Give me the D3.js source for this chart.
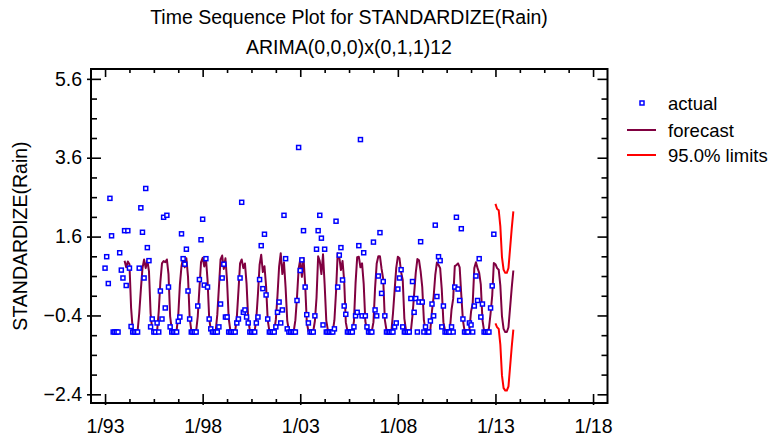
<!DOCTYPE html>
<html>
<head>
<meta charset="utf-8">
<script src="https://cdn.jsdelivr.net/npm/d3@7"></script>
<style>
  body { margin: 0; background: #fff; }
  svg { display: block; }
  text { font-family: Arial, "Liberation Sans", sans-serif; fill: #000; }
</style>
</head>
<body>
<svg id="chart" width="779" height="437"></svg>
<script>
// monthly series, first value = 1/93
const firstYear = 1993;

const actual = [
  0.80, 1.09, 0.41, 2.57, 1.62, -0.82, -0.82, -0.82, -0.82, 1.19, 0.75, 0.55,   // 1993
  1.75, 0.36, 1.75, 0.80, -0.68, -0.82, -0.82, -0.82, -0.82, 0.80, 2.33, 1.71,  // 1994
  0.55, 2.82, 1.32, 0.99, -0.69, -0.49, -0.82, -0.82, -0.59, -0.82, 0.22, -0.49, // 1995
  2.09, -0.21, 2.14, 0.32, -0.69, -0.82, -0.82, -0.82, -0.82, -0.55, -0.44, 1.67, // 1996
  1.04, 0.90, 1.28, 0.22, -0.49, -0.82, -0.82, -0.82, -0.82, -0.16, 0.51, 1.52, // 1997
  2.04, 0.37, 1.04, 0.32, -0.49, -0.74, -0.82, -0.82, -0.82, -0.82, -0.69, -0.11, // 1998
  0.55, 0.90, -0.44, -0.44, -0.82, -0.82, -0.82, -0.82, -0.82, -0.59, -0.49, 0.55, // 1999
  2.47, -0.32, -0.26, -0.44, -0.59, -0.82, -0.82, -0.82, -0.82, -0.59, -0.44, 0.51, // 2000
  1.37, 0.28, 1.66, 0.12, -0.49, -0.82, -0.82, -0.82, -0.82, -0.69, -0.32, -0.06, // 2001
  -0.59, -0.26, 2.14, 1.04, -0.74, -0.82, -0.82, -0.82, -0.82, -0.82, -0.02, 3.86, // 2002
  0.74, 1.01, 1.75, 0.32, -0.38, -0.59, -0.82, -0.82, -0.82, -0.41, 1.28, 1.75, // 2003
  2.14, 1.56, -0.64, 1.28, -0.82, -0.82, -0.82, -0.82, -0.82, -0.74, 1.99, 0.32, // 2004
  1.13, 1.32, 0.50, -0.16, -0.37, -0.82, -0.82, -0.82, -0.82, -0.69, -0.41, -0.32, // 2005
  1.37, 4.06, -0.41, 1.19, -0.41, -0.69, -0.82, -0.82, -0.82, 1.46, -0.26, -0.41, // 2006
  0.60, 1.70, 0.16, 0.46, -0.41, -0.82, -0.82, -0.82, -0.82, -0.82, -0.69, -0.59, // 2007
  0.27, 0.55, 0.76, -0.69, -0.82, -0.82, -0.82, -0.82, 0.03, 0.46, -0.32, 0.03, // 2008
  -0.82, -0.06, 1.47, -0.06, -0.82, -0.69, -0.82, -0.82, -0.54, -0.11, -0.41, 1.89, // 2009
  0.08, 1.09, 0.99, -0.69, -0.16, -0.82, -0.82, -0.82, -0.82, -0.69, -0.82, 0.32, // 2010
  2.09, 0.27, -0.02, 1.80, -0.49, -0.82, -0.82, -0.82, -0.59, -0.64, -0.82, -0.16, // 2011
  0.60, -0.02, 1.04, -0.44, -0.11, -0.82, -0.82, -0.82, -0.82, -0.21, 0.35, 1.66  // 2012
];

// one-step forecasts, starting 1/94, then 12 months ahead (1/13 - 12/13)
const forecastStart = 12;
const forecast = [
  0.99, 0.82, 0.97, 0.90, -0.20, -0.76, -0.82, -0.82, -0.80, -0.35, 0.25, 0.80, // 1994
  1.02, 0.80, 1.00, 0.72, -0.35, -0.78, -0.82, -0.82, -0.80, -0.30, 0.45, 0.92, // 1995
  0.98, 0.95, 1.02, 0.65, -0.42, -0.76, -0.82, -0.82, -0.78, -0.40, 0.38, 0.85, // 1996
  1.08, 0.82, 1.05, 0.58, -0.45, -0.78, -0.82, -0.82, -0.80, -0.42, 0.28, 0.95, // 1997
  1.06, 0.84, 1.06, 0.50, -0.46, -0.78, -0.82, -0.82, -0.80, -0.38, 0.32, 1.02, // 1998
  1.12, 0.78, 1.05, 0.48, -0.47, -0.77, -0.82, -0.82, -0.80, -0.45, 0.22, 0.92, // 1999
  1.02, 0.80, 0.92, 0.40, -0.50, -0.78, -0.82, -0.82, -0.80, -0.47, 0.15, 0.88, // 2000
  1.14, 0.70, 0.85, 0.34, -0.52, -0.79, -0.82, -0.82, -0.80, -0.50, 0.10, 0.84, // 2001
  1.18, 0.65, 0.95, 0.30, -0.53, -0.79, -0.82, -0.82, -0.80, -0.52, 0.06, 0.78, // 2002
  1.02, 0.58, 1.06, 0.40, -0.56, -0.80, -0.82, -0.82, -0.80, -0.54, 0.05, 1.10, // 2003
  0.98, 0.65, 1.15, 0.38, -0.53, -0.78, -0.82, -0.82, -0.80, -0.52, 0.20, 1.18, // 2004
  1.08, 0.75, 0.98, 0.48, -0.57, -0.80, -0.82, -0.82, -0.80, -0.55, 0.42, 1.08, // 2005
  1.09, 0.82, 0.92, 0.40, -0.54, -0.79, -0.82, -0.82, -0.80, -0.57, 0.30, 0.92, // 2006
  1.10, 1.10, 0.78, 0.52, -0.51, -0.77, -0.82, -0.82, -0.80, -0.35, 0.23, 0.80, // 2007
  1.09, 1.05, 0.70, 0.50, -0.48, -0.78, -0.82, -0.82, -0.80, -0.40, 0.14, 0.68, // 2008
  1.03, 1.00, 0.72, 0.32, -0.52, -0.79, -0.82, -0.82, -0.75, -0.28, 0.08, 0.62, // 2009
  0.94, 0.88, 0.80, 0.26, -0.57, -0.78, -0.82, -0.82, -0.76, -0.25, 0.02, 0.85, // 2010
  0.88, 0.92, 0.82, 0.12, -0.52, -0.79, -0.82, -0.82, -0.76, -0.30, -0.10, 0.80, // 2011
  0.95, 0.80, 0.68, 0.38, -0.51, -0.79, -0.82, -0.82, -0.72, -0.35, 0.10, 0.93, // 2012
  0.90, 0.80, 0.76, 0.36, -0.42, -0.74, -0.82, -0.82, -0.70, -0.20, 0.30, 0.74  // 2013
];

// 95% limits for the 12 months after the data
const limitStart = 240;
const upperLimit = [2.43, 2.30, 2.27, 1.86, 1.08, 0.76, 0.68, 0.68, 0.80, 1.30, 1.80, 2.24];
const lowerLimit = [-0.60, -0.70, -0.74, -1.14, -1.92, -2.24, -2.30, -2.30, -2.20, -1.70, -1.20, -0.76];

const xMajorYears = [1993, 1998, 2003, 2008, 2013, 2018];
const xTickLabels = ["1/93", "1/98", "1/03", "1/08", "1/13", "1/18"];
const yMajorTicks = [-2.4, -0.4, 1.6, 3.6, 5.6];
const legendLabels = ["actual", "forecast", "95.0% limits"];

const plot = { left: 91, top: 69, right: 607.5, bottom: 403 };
const FONT = 19.5;

const svg = d3.select("#chart");

const x = d3.scaleLinear().domain([1992.28, 2018.74]).range([plot.left, plot.right]);
const y = d3.scaleLinear().domain([-2.62, 5.85]).range([plot.bottom, plot.top]);

const timeOf = i => firstYear + i / 12;

// minor ticks: 4 steps between x majors, 4 steps between y majors
const xMinor = [];
for (let k = 0; k < xMajorYears.length - 1; k++) {
  for (let j = 1; j < 4; j++) xMinor.push(xMajorYears[k] + j * 1.25);
}
const yMinor = [];
for (let k = 0; k < yMajorTicks.length - 1; k++) {
  for (let j = 1; j < 4; j++) yMinor.push(yMajorTicks[k] + j * 0.5);
}

// frame
svg.append("rect")
  .attr("x", plot.left).attr("y", plot.top)
  .attr("width", plot.right - plot.left).attr("height", plot.bottom - plot.top)
  .attr("fill", "none").attr("stroke", "#000").attr("stroke-width", 2);

function styleAxis(g) {
  g.select(".domain").remove();
  g.selectAll(".tick line").attr("stroke", "#000").attr("stroke-width", 1.6);
  g.selectAll(".tick text").attr("font-size", FONT).attr("font-family", "Arial, 'Liberation Sans', sans-serif");
}

// bottom axis
svg.append("g").attr("transform", `translate(0,${plot.bottom})`)
  .call(d3.axisBottom(x).tickValues(xMajorYears).tickFormat((d, i) => xTickLabels[i]).tickSize(-9).tickPadding(16))
  .call(styleAxis)
  .call(g => g.selectAll(".tick line").attr("y1", 2));
svg.append("g").attr("transform", `translate(0,${plot.bottom})`)
  .call(d3.axisBottom(x).tickValues(xMinor).tickFormat("").tickSize(-4))
  .call(styleAxis);
// top axis ticks
svg.append("g").attr("transform", `translate(0,${plot.top})`)
  .call(d3.axisTop(x).tickValues(xMajorYears).tickFormat("").tickSize(-8))
  .call(styleAxis);
svg.append("g").attr("transform", `translate(0,${plot.top})`)
  .call(d3.axisTop(x).tickValues(xMinor).tickFormat("").tickSize(-4))
  .call(styleAxis);

// left axis
svg.append("g").attr("transform", `translate(${plot.left},0)`)
  .call(d3.axisLeft(y).tickValues(yMajorTicks).tickFormat(d3.format(".1f")).tickSize(-10).tickPadding(9))
  .call(styleAxis)
  .call(g => g.selectAll(".tick line").attr("x1", -4));
svg.append("g").attr("transform", `translate(${plot.left},0)`)
  .call(d3.axisLeft(y).tickValues(yMinor).tickFormat("").tickSize(-6))
  .call(styleAxis);
// right axis ticks
svg.append("g").attr("transform", `translate(${plot.right},0)`)
  .call(d3.axisRight(y).tickValues(yMajorTicks).tickFormat("").tickSize(-10))
  .call(styleAxis);
svg.append("g").attr("transform", `translate(${plot.right},0)`)
  .call(d3.axisRight(y).tickValues(yMinor).tickFormat("").tickSize(-6))
  .call(styleAxis);

// titles
svg.append("text").attr("x", 349).attr("y", 24).attr("text-anchor", "middle")
  .attr("font-size", FONT).text("Time Sequence Plot for STANDARDIZE(Rain)");
svg.append("text").attr("x", 349).attr("y", 54).attr("text-anchor", "middle")
  .attr("font-size", FONT).text("ARIMA(0,0,0)x(0,1,1)12");
svg.append("text").attr("transform", `translate(27,${(plot.top + plot.bottom) / 2}) rotate(-90)`)
  .attr("text-anchor", "middle").attr("font-size", FONT).text("STANDARDIZE(Rain)");

// series
const forecastPts = forecast.map((v, i) => ({ t: timeOf(forecastStart + i), v }));
const upperPts = upperLimit.map((v, i) => ({ t: timeOf(limitStart + i), v }));
const lowerPts = lowerLimit.map((v, i) => ({ t: timeOf(limitStart + i), v }));
const actualPts = actual.map((v, i) => ({ t: timeOf(i), v }));

const line = d3.line().x(d => x(d.t)).y(d => y(d.v));

svg.append("path").datum(forecastPts).attr("d", line)
  .attr("fill", "none").attr("stroke", "#800040").attr("stroke-width", 2).attr("stroke-linejoin", "round");
svg.append("path").datum(upperPts).attr("d", line)
  .attr("fill", "none").attr("stroke", "#ff0000").attr("stroke-width", 2);
svg.append("path").datum(lowerPts).attr("d", line)
  .attr("fill", "none").attr("stroke", "#ff0000").attr("stroke-width", 2);

svg.append("g").selectAll("rect").data(actualPts).join("rect")
  .attr("x", d => x(d.t) - 2).attr("y", d => y(d.v) - 2)
  .attr("width", 4).attr("height", 4)
  .attr("fill", "#fff").attr("stroke", "#0000ff").attr("stroke-width", 1.5);

// legend
const legend = svg.append("g");
const legendY = [103, 130, 155];
legend.append("rect").attr("x", 640).attr("y", legendY[0] - 2).attr("width", 4).attr("height", 4)
  .attr("fill", "#fff").attr("stroke", "#0000ff").attr("stroke-width", 1.5);
legend.append("line").attr("x1", 627).attr("x2", 656).attr("y1", legendY[1]).attr("y2", legendY[1])
  .attr("stroke", "#800040").attr("stroke-width", 2);
legend.append("line").attr("x1", 627).attr("x2", 656).attr("y1", legendY[2]).attr("y2", legendY[2])
  .attr("stroke", "#ff0000").attr("stroke-width", 2);
legend.selectAll("text.lab").data(legendLabels).join("text").attr("class", "lab")
  .attr("x", 668).attr("y", (d, i) => legendY[i] + 6.5).attr("font-size", 18.5).text(d => d);
</script>
</body>
</html>
